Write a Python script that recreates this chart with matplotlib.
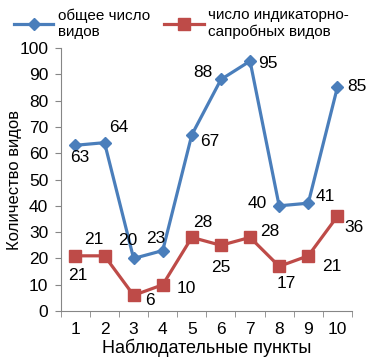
import matplotlib.pyplot as plt

plt.rcParams['font.family'] = ['Liberation Sans', 'DejaVu Sans']

points = [1, 2, 3, 4, 5, 6, 7, 8, 9, 10]
total_species = [63, 64, 20, 23, 67, 88, 95, 40, 41, 85]
saprobic_species = [21, 21, 6, 10, 28, 25, 28, 17, 21, 36]

blue = '#4a7ebb'
red = '#be4b48'

# label offsets in points (placed by hand to match the original)
total_offsets = [(3, -9), (10, 11), (-4, 13), (-5, 9), (13, -5),
                 (-13, 5), (13, -2), (-16, 2), (12, 5), (14, 1)]
sapro_offsets = [(2, -14), (-8, 12), (12, -4), (17, -3), (8, 11),
                 (0, -16), (14, 4), (5, -12), (17, -8), (12, -8)]

fig = plt.figure(figsize=(3.78, 3.63), dpi=100)
ax = fig.add_axes([0.161, 0.143, 0.77, 0.725])

ax.plot(points, total_species, color=blue, lw=2.3, marker='D', ms=6.5,
        label='общее число\nвидов', zorder=3)
ax.plot(points, saprobic_species, color=red, lw=2.3, marker='s', ms=8,
        label='число индикаторно-\nсапробных видов', zorder=3)

for x, v, off in zip(points, total_species, total_offsets):
    ax.annotate(str(v), (x, v), xytext=off, textcoords='offset points',
                ha='center', va='center', fontsize=12.5)
for x, v, off in zip(points, saprobic_species, sapro_offsets):
    ax.annotate(str(v), (x, v), xytext=off, textcoords='offset points',
                ha='center', va='center', fontsize=12.5)

ax.set_xlim(0.5, 10.5)
ax.set_ylim(0, 100)
ax.set_yticks(range(0, 101, 10))
ax.set_xticks(points)
ax.set_xticks([p + 0.5 for p in [0] + points], minor=True)
ax.tick_params(axis='x', which='major', length=0, labelsize=12.5, pad=8)
ax.tick_params(axis='x', which='minor', length=4, color='#868686')
ax.tick_params(axis='y', length=4, color='#868686', labelsize=12.5, pad=5)

for s in ['top', 'right']:
    ax.spines[s].set_visible(False)
for s in ['left', 'bottom']:
    ax.spines[s].set_color('#868686')

ax.set_xlabel('Наблюдательные пункты', fontsize=13, labelpad=1)
ax.set_ylabel('Количество видов', fontsize=12)
ax.yaxis.set_label_coords(-0.135, 0.5)

fig.legend(loc='upper left', bbox_to_anchor=(0.0, 1.015), ncol=2, frameon=False,
           fontsize=11, handlelength=2.6, handletextpad=0.3, columnspacing=0.9,
           labelspacing=0.05)

fig.savefig('out.png', dpi=100)
